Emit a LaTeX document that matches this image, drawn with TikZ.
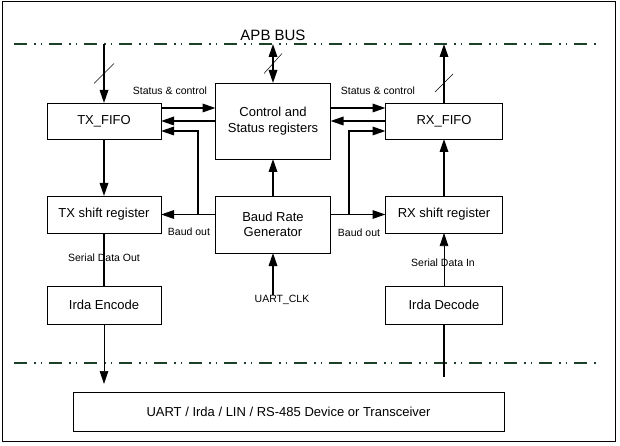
\documentclass[tikz,border=0pt]{standalone}
\usepackage{fontspec}
\setmainfont{Liberation Sans}
\usetikzlibrary{arrows.meta,calc,positioning}
\definecolor{busgreen}{RGB}{28,64,40}
\tikzstyle{block}=[rectangle,draw=black,line width=0.8pt,inner sep=2pt,outer sep=0pt,
align=center,font=\fontsize{13}{15.5}\selectfont]
\tikzstyle{sig}=[inner sep=0pt,font=\fontsize{10.5}{12}\selectfont]
\tikzstyle{bus}=[draw=busgreen,line width=1.8pt,dash pattern=on 13pt off 7pt on 1.5pt off 5pt on 1.5pt off 7pt]
\tikzstyle{wire}=[draw,line width=1.7pt]
\tikzstyle{thinwire}=[draw,line width=0.7pt]
\tikzstyle{buswidth}=[draw,line width=0.5pt]

\begin{document}
\begin{tikzpicture}[x=1pt,y=-1pt,>={Triangle[length=13pt,width=8.5pt]}]
    \useasboundingbox (0,0) rectangle (620,446);
    \draw[line width=1pt] (2.5,1.5) rectangle (615,441);

    % buses
    \coordinate (busL) at (14,44);
    \coordinate (busR) at (598,44);
    \coordinate (linkL) at (14,363);
    \coordinate (linkR) at (598,363);
    \draw[bus] (busL) -- (busR);
    \draw[bus] (linkL) -- (linkR);
    \node[font=\fontsize{15}{17}\selectfont,inner sep=0pt] (apb) at (273,35) {APB BUS};

    % blocks
    \node[block,minimum width=114pt,minimum height=36pt] (txfifo) at (104,121) {TX\_FIFO};
    \node[block,minimum width=115pt,minimum height=76pt] (ctrl) at (273,121) {Control and \\ Status registers};
    \node[block,minimum width=117pt,minimum height=36pt] (rxfifo) at (444,121) {RX\_FIFO};
    \node[block,minimum width=114pt,minimum height=37pt] (txshift) at (104,214.5) {TX shift register};
    \node[block,minimum width=115pt,minimum height=57pt] (baud) at (273,224.5) {Baud Rate \\ Generator};
    \node[block,minimum width=117pt,minimum height=37pt] (rxshift) at (444,214.5) {RX shift register};
    \node[block,minimum width=114pt,minimum height=38pt] (irenc) at (104,305) {Irda Encode};
    \node[block,minimum width=117pt,minimum height=38pt] (irdec) at (444,305) {Irda Decode};
    \node[block,minimum width=431pt,minimum height=39pt] (device) at (288.5,411.5)
      {UART / Irda / LIN / RS-485 Device or Transceiver};

    % labels
    \node[sig] (stl) at (170,91) {Status \& control};
    \node[sig] (str) at (378,91) {Status \& control};
    \node[sig] (bol) at (189,232) {Baud out};
    \node[sig] (bor) at (359,233) {Baud out};
    \node[sig] (sdo) at (104,258) {Serial Data Out};
    \node[sig] (sdi) at (443,263) {Serial Data In};
    \node[sig] (clk) at (282,300) {UART\_CLK};

    % bus connections
    \draw[wire,->] (busL -| txfifo.north) -- (txfifo.north);
    \draw[wire,<->] (busL -| ctrl.north) -- (ctrl.north);
    \draw[wire,->] (rxfifo.north) -- (busL -| rxfifo.north);
    \draw[buswidth] ($(txfifo.north |- busL)!0.5!(txfifo.north)$) ++(-10,10) -- ++(20,-20);
    \draw[buswidth] ($(ctrl.north |- busL)!0.5!(ctrl.north)$) ++(-9,10) -- ++(18,-20);
    \draw[buswidth] ($(rxfifo.north)!0.34!(rxfifo.north |- busL)$) ++(-9,9) -- ++(18,-18);

    % status and control
    \draw[wire,->] ([yshift=13pt]txfifo.east) -- ([yshift=13pt]ctrl.west);
    \draw[wire,->] (ctrl.west) -- (txfifo.east);
    \draw[wire,->] ([yshift=13pt]ctrl.east) -- ([yshift=13pt]rxfifo.west);
    \draw[wire,->] (rxfifo.west) -- (ctrl.east);

    % baud out
    \coordinate (tapL) at (198,214.5);
    \coordinate (tapR) at (349,214.5);
    \draw[wire,->] (baud.west |- txshift.east) -- (txshift.east);
    \draw[wire,->] (tapL) |- ([yshift=-10pt]txfifo.east);
    \draw[wire,->] (baud.east |- rxshift.west) -- (rxshift.west);
    \draw[wire,->] (tapR) |- ([yshift=-10pt]rxfifo.west);
    \draw[wire,->] (baud.north) -- (ctrl.south);
    \draw[wire,->] (clk.north -| baud.south) -- (baud.south);

    % data path
    \draw[wire,->] (txfifo.south) -- (txshift.north);
    \draw[wire,->] (rxshift.north) -- (rxfifo.south);
    \draw[wire] (txshift.south) -- (irenc.north);
    \draw[thinwire,->] (irdec.north) -- (rxshift.south);
    \draw[thinwire,->] (irenc.south) -- ($(irenc.south |- device.north)+(0,-8)$);
    \draw[wire] ($(irdec.south |- device.north)+(0,-15)$) -- (irdec.south);
  \end{tikzpicture}
\end{document}
